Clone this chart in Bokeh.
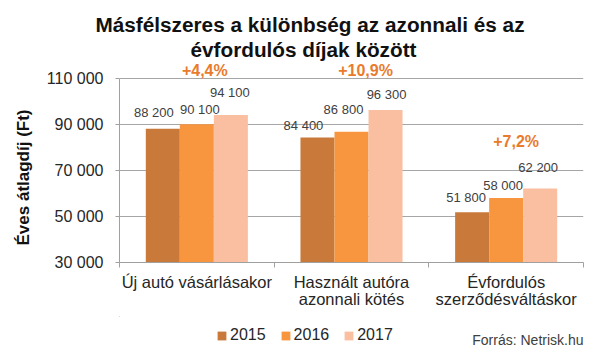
from bokeh.plotting import figure
from bokeh.layouts import column
from bokeh.models import ColumnDataSource, FixedTicker, Label, LabelSet, Legend, LegendItem, Range1d, Title
from bokeh.core.properties import value
from bokeh.embed import file_html
from bokeh.resources import INLINE

# ---- data ----
categories = ["Új autó vásárlásakor", "Használt autóra\nazonnali kötés", "Évfordulós\nszerződésváltáskor"]
years = ["2015", "2016", "2017"]
values_2015 = [88200, 84400, 51800]
values_2016 = [90100, 86800, 58000]
values_2017 = [94100, 96300, 62200]
pct_labels = ["+4,4%", "+10,9%", "+7,2%"]
y_ticks = [30000, 50000, 70000, 90000, 110000]
y_tick_labels = ["30 000", "50 000", "70 000", "90 000", "110 000"]
title_lines = ["Másfélszeres a különbség az azonnali és az", "évfordulós díjak között"]
y_title = "Éves átlagdíj (Ft)"
source_text = "Forrás: Netrisk.hu"

# ---- styles / geometry ----
FONT = "Liberation Sans"
colors = ["#C97A3A", "#F7963F", "#F9BFA0"]
bar_w = 0.22
lab_dx = [[-9, -14, -6], [3, -8, -3], [-1, 1, -2]]
lab_dy = [[16, 12, 15], [15, 22, 13], [23, 16, 21]]
pct_dx = [8, 14, 10]
pct_dy = [45, 40, 47]
W = 600
H1, H2 = 316, 42
LEFT, RIGHT, TOP, BOTTOM = 119, 17, 60, 54
AXIS_TOP_PX = 78          # pixel row of the top tick
FRAME_H = H1 - BOTTOM - TOP
title_offsets = [-24, 71]  # px from the frame's left edge

series = [values_2015, values_2016, values_2017]
n = len(categories)
ymin, ymax = y_ticks[0], y_ticks[-1]
axis_px = H1 - BOTTOM - AXIS_TOP_PX
y_top = ymin + (ymax - ymin) * FRAME_H / axis_px

p = figure(width=W, height=H1, output_backend="svg", toolbar_location=None,
           x_range=Range1d(0, n), y_range=Range1d(ymin, y_top),
           min_border_left=LEFT, min_border_right=RIGHT, min_border_top=TOP, min_border_bottom=BOTTOM)
p.outline_line_color = None
p.background_fill_color = "white"
p.border_fill_color = "white"

sources = []
for j, (yr, vals) in enumerate(zip(years, series)):
    xs = [i + 0.5 + (j - 1) * bar_w for i in range(n)]
    src = ColumnDataSource(dict(x=xs, top=vals, bottom=[ymin] * n))
    sources.append(src)
    p.vbar(x="x", top="top", bottom="bottom", width=bar_w, source=src,
           fill_color=colors[j], line_color=None)
    lsrc = ColumnDataSource(dict(x=xs, y=vals, text=[f"{v:,}".replace(",", " ") for v in vals],
                                 dx=lab_dx[j], dy=lab_dy[j]))
    p.add_layout(LabelSet(x="x", y="y", text="text", x_offset="dx", y_offset="dy", source=lsrc,
                          text_align="center", text_baseline="middle", text_font=value(FONT),
                          text_font_size="13px", text_color="#404040"))

group_max = [max(s[i] for s in series) for i in range(n)]
psrc = ColumnDataSource(dict(x=[i + 0.5 for i in range(n)], y=group_max, text=pct_labels,
                             dx=pct_dx, dy=pct_dy))
p.add_layout(LabelSet(x="x", y="y", text="text", x_offset="dx", y_offset="dy", source=psrc,
                      text_align="center", text_baseline="middle", text_font=value(FONT),
                      text_font_size="16px", text_font_style="bold", text_color="#E97B2C"))

# axes
ax_col = "#A0A0A0"
p.xaxis.ticker = FixedTicker(ticks=[i + 0.5 for i in range(n)], minor_ticks=list(range(n + 1)))
p.xaxis.major_label_overrides = {i + 0.5: c for i, c in enumerate(categories)}
p.xaxis.major_tick_line_color = None
p.xaxis.major_tick_out = 0
p.xaxis.minor_tick_out = 5
p.xaxis.minor_tick_in = 0
p.xaxis.minor_tick_line_color = ax_col
p.xaxis.axis_line_color = ax_col
p.xaxis.major_label_standoff = 5
p.xaxis.major_label_text_font = FONT
p.xaxis.major_label_text_font_size = "16.5px"
p.xaxis.major_label_text_line_height = 0.95
p.xaxis.major_label_text_color = "#262626"

p.yaxis.ticker = FixedTicker(ticks=y_ticks, minor_ticks=[])
p.yaxis.bounds = (ymin, ymax)
p.yaxis.major_label_overrides = {t: l for t, l in zip(y_ticks, y_tick_labels)}
p.yaxis.major_tick_out = 4
p.yaxis.major_tick_in = 0
p.yaxis.major_tick_line_color = ax_col
p.yaxis.axis_line_color = ax_col
p.yaxis.major_label_standoff = 12
p.yaxis.major_label_text_font = FONT
p.yaxis.major_label_text_font_size = "16px"
p.yaxis.major_label_text_color = "#262626"

p.add_layout(Title(text=y_title, align="left", offset=17, standoff=22, text_font=FONT,
                   text_font_size="17px", text_font_style="bold", text_color="#111111"), "left")

p.xgrid.visible = False
p.ygrid.grid_line_color = "#A6A6A6"
p.ygrid.grid_line_width = 1

# two-line chart title in the "above" panel (later added = further from the frame)
for line, off in reversed(list(zip(title_lines, title_offsets))):
    p.add_layout(Title(text=line, align="left", offset=off, standoff=0, vertical_align="bottom",
                       text_font=FONT, text_font_size="20.75px", text_font_style="bold",
                       text_color="#111111"), "above")

# ---- bottom strip: legend + source (legend keys reuse the series' sources, kept out of view) ----
p2 = figure(width=W, height=H2, output_backend="svg", toolbar_location=None,
            x_range=Range1d(n + 10, n + 11), y_range=Range1d(0, 1), x_axis_type=None, y_axis_type=None,
            min_border_left=LEFT, min_border_right=RIGHT, min_border_top=0, min_border_bottom=0)
p2.outline_line_color = None
p2.grid.visible = False
keys = [p2.vbar(x="x", top="top", bottom="bottom", width=bar_w, source=src,
                fill_color=c, line_color=None) for src, c in zip(sources, colors)]
legend = Legend(items=[LegendItem(label=y, renderers=[r]) for y, r in zip(years, keys)],
                orientation="horizontal", location=(216 - LEFT, 14),
                glyph_width=11, glyph_height=11, label_standoff=3, spacing=14, padding=0,
                margin=0, border_line_color=None, background_fill_alpha=0,
                label_text_font=FONT, label_text_font_size="16px", label_text_color="#262626")
p2.add_layout(legend)
p2.add_layout(Label(x=W - RIGHT - LEFT, y=19, x_units="screen", y_units="screen", text=source_text,
                    text_align="right", text_baseline="alphabetic", text_font=FONT,
                    text_font_size="14px", text_color="#404040"))

layout = column(p, p2, spacing=0)
open("out.html", "w").write(file_html(layout, INLINE))
